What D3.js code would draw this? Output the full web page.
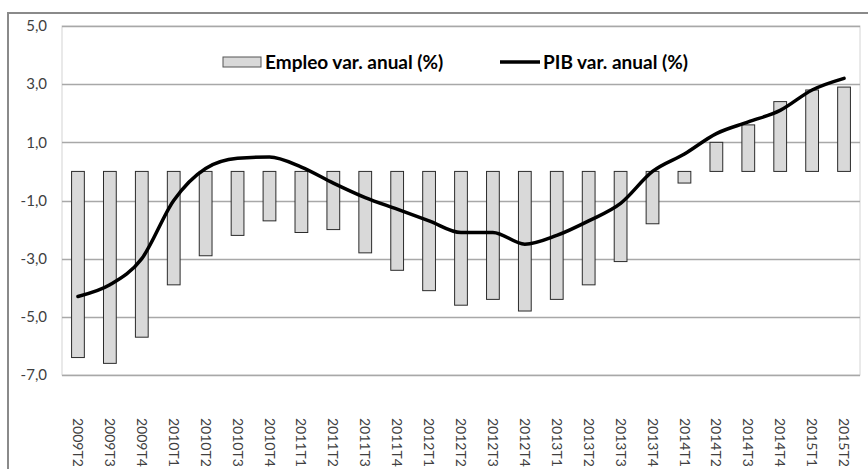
<!DOCTYPE html>
<html>
<head>
<meta charset="utf-8">
<script src="https://cdn.jsdelivr.net/npm/d3@7"></script>
<style>
  html, body { margin: 0; padding: 0; background: #fff; }
  svg { display: block; }
  text { font-family: Lato, "Open Sans", sans-serif; }
</style>
</head>
<body>
<svg id="chart" width="868" height="469"></svg>
<script>
// Quarters shown on the horizontal axis
const quarters = [
  "2009T2", "2009T3", "2009T4",
  "2010T1", "2010T2", "2010T3", "2010T4",
  "2011T1", "2011T2", "2011T3", "2011T4",
  "2012T1", "2012T2", "2012T3", "2012T4",
  "2013T1", "2013T2", "2013T3", "2013T4",
  "2014T1", "2014T2", "2014T3", "2014T4",
  "2015T1", "2015T2"
];

// Employment, year-on-year change (%)
const empleo = [
  -6.4, -6.6, -5.7,
  -3.9, -2.9, -2.2, -1.7,
  -2.1, -2.0, -2.8, -3.4,
  -4.1, -4.6, -4.4, -4.8,
  -4.4, -3.9, -3.1, -1.8,
  -0.4, 1.0, 1.6, 2.4,
  2.8, 2.9
];

// GDP, year-on-year change (%)
const pib = [
  -4.3, -3.9, -3.0,
  -1.0, 0.1, 0.45, 0.5,
  0.15, -0.4, -0.9, -1.3,
  -1.7, -2.1, -2.1, -2.5,
  -2.2, -1.7, -1.1, 0.0,
  0.6, 1.3, 1.7, 2.1,
  2.8, 3.2
];

// Value-axis ticks and their printed labels
const yTicks = [5, 3, 1, -1, -3, -5, -7];
const yTickLabels = ["5,0", "3,0", "1,0", "-1,0", "-3,0", "-5,0", "-7,0"];

const seriesNames = ["Empleo var. anual (%)", "PIB var. anual (%)"];

const svg = d3.select("#chart");

const plot = { left: 62, right: 860, top: 26, bottom: 375 };

const x = d3.scaleBand()
  .domain(quarters)
  .range([plot.left, plot.right])
  .paddingInner(0.6)
  .paddingOuter(0.3);

const y = d3.scaleLinear()
  .domain([-7, 5])
  .range([plot.bottom, plot.top]);

// Outer chart frame (left and top edges show)
svg.append("rect")
  .attr("x", 8).attr("y", 13)
  .attr("width", 900).attr("height", 500)
  .attr("fill", "none")
  .attr("stroke", "#8a8a8a")
  .attr("stroke-width", 2);

// Plot area frame
svg.append("rect")
  .attr("x", plot.left).attr("y", plot.top)
  .attr("width", plot.right - plot.left)
  .attr("height", plot.bottom - plot.top)
  .attr("fill", "none")
  .attr("stroke", "#d4d4d4")
  .attr("stroke-width", 1);

// Horizontal gridlines
svg.append("g")
  .selectAll("line")
  .data(yTicks)
  .join("line")
  .attr("x1", plot.left).attr("x2", plot.right)
  .attr("y1", d => Math.round(y(d)) + 0.5)
  .attr("y2", d => Math.round(y(d)) + 0.5)
  .attr("stroke", "#a8a8a8")
  .attr("stroke-width", 1.3);

// Value axis labels
const yAxis = d3.axisLeft(y)
  .tickValues(yTicks)
  .tickSize(0)
  .tickPadding(15)
  .tickFormat((d, i) => yTickLabels[i]);

const yg = svg.append("g")
  .attr("transform", `translate(${plot.left},0)`)
  .call(yAxis);
yg.select(".domain").remove();
yg.selectAll("text")
  .attr("font-family", "Lato, 'Open Sans', sans-serif")
  .attr("font-size", 15)
  .attr("fill", "#404040");

// Category axis labels, rotated to read downward
const xAxis = d3.axisBottom(x).tickSize(0).tickPadding(0);
const xg = svg.append("g")
  .attr("transform", `translate(0,${plot.bottom})`)
  .call(xAxis);
xg.select(".domain").remove();
xg.selectAll("text")
  .attr("font-family", "Lato, 'Open Sans', sans-serif")
  .attr("font-size", 14)
  .attr("fill", "#404040")
  .attr("text-anchor", "start")
  .attr("dy", "0.35em")
  .attr("transform", "translate(0,43) rotate(90)");

// Employment bars
svg.append("g")
  .selectAll("rect")
  .data(quarters)
  .join("rect")
  .attr("x", d => x(d))
  .attr("width", x.bandwidth())
  .attr("y", (d, i) => y(Math.max(0, empleo[i])))
  .attr("height", (d, i) => Math.abs(y(empleo[i]) - y(0)))
  .attr("fill", "#d9d9d9")
  .attr("stroke", "#2b2b2b")
  .attr("stroke-width", 1);

// GDP line
const line = d3.line()
  .x((d, i) => x(quarters[i]) + x.bandwidth() / 2)
  .y(d => y(d))
  .curve(d3.curveMonotoneX);

svg.append("path")
  .datum(pib)
  .attr("d", line)
  .attr("fill", "none")
  .attr("stroke", "#000")
  .attr("stroke-width", 3.5)
  .attr("stroke-linejoin", "round")
  .attr("stroke-linecap", "round");

// Legend
const legend = svg.append("g");
legend.append("rect")
  .attr("x", 223).attr("y", 57)
  .attr("width", 38).attr("height", 10)
  .attr("fill", "#d9d9d9")
  .attr("stroke", "#555")
  .attr("stroke-width", 1);
legend.append("text")
  .attr("x", 265).attr("y", 68.5)
  .attr("font-size", 19)
  .attr("font-weight", "bold")
  .attr("fill", "#000")
  .text(seriesNames[0]);
legend.append("line")
  .attr("x1", 500).attr("x2", 540)
  .attr("y1", 62).attr("y2", 62)
  .attr("stroke", "#000")
  .attr("stroke-width", 3.5);
legend.append("text")
  .attr("x", 543).attr("y", 68.5)
  .attr("font-size", 19)
  .attr("font-weight", "bold")
  .attr("fill", "#000")
  .text(seriesNames[1]);
</script>
</body>
</html>
